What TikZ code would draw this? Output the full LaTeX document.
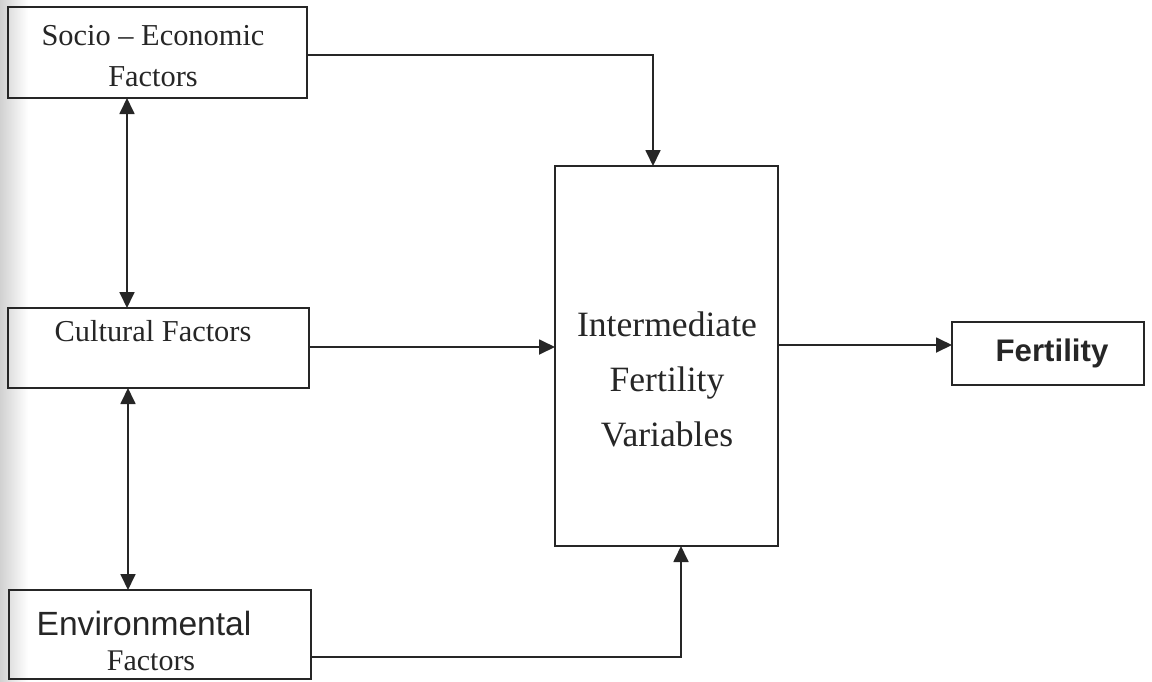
\documentclass[tikz,border=0pt]{standalone}
\usepackage{fontspec}
\setmainfont{Liberation Serif}
\newfontfamily\arialf{Liberation Sans}
\usetikzlibrary{arrows.meta,calc}
\tikzset{
  boxnode/.style={draw=black!85, line width=0.9pt, rectangle, inner sep=0pt},
  lbl/.style={inner sep=0pt, align=center, text=black!85},
  conn/.style={draw=black!85, line width=0.9pt},
  arr/.style={conn, -{Triangle[length=8pt,width=7.5pt]}},
  darr/.style={conn, {Triangle[length=8pt,width=7.5pt]}-{Triangle[length=8pt,width=7.5pt]}}
}
\begin{document}
\begin{tikzpicture}[x=0.5pt,y=-0.5pt]
\useasboundingbox (0,0) rectangle (1152,681);
\fill[left color=black!18, right color=white] (0,0) rectangle (28,681);
% boxes
\node[boxnode, minimum width=149.5pt, minimum height=45.5pt] (se) at (157.5,52.5) {};
\node[boxnode, minimum width=150.5pt, minimum height=40pt] (cf) at (158.5,348) {};
\node[boxnode, minimum width=151pt, minimum height=44.5pt] (ef) at (160,634.5) {};
\node[boxnode, minimum width=111.5pt, minimum height=190pt] (iv) at (666.5,356) {};
\node[boxnode, minimum width=96pt, minimum height=31.5pt] (ff) at (1048,353.5) {};
% texts
\node[lbl, font=\fontsize{15.2}{20.5}\selectfont] (setxt) at (153,56) {Socio -- Economic\\Factors};
\node[lbl, font=\fontsize{15.2}{18}\selectfont] (cftxt) at (153,331) {Cultural Factors};
\node[lbl, font=\fontsize{17.8}{27.5}\selectfont] (ivtxt) at (667,379) {Intermediate\\Fertility\\Variables};
\node[lbl, font=\arialf\fontsize{16.8}{18.5}\selectfont] (eftxt1) at (144,623) {Environmental};
\node[lbl, font=\fontsize{15}{18}\selectfont] (eftxt2) at (151,661) {Factors};
\node[lbl, font=\arialf\bfseries\fontsize{15.6}{18}\selectfont] (fftxt) at (1052,353) {Fertility};
% helper coordinates
\coordinate (seout) at (307,55);
\coordinate (ivtop) at (653,166);
\coordinate (cfout) at (309,347);
\coordinate (ivin) at (555,347);
\coordinate (ivout) at (778,345);
\coordinate (ffin) at (952,345);
\coordinate (efout) at (310,657);
\coordinate (ivbot) at (681,546);
\coordinate (sebot) at (127,98);
\coordinate (cftop) at (127,308);
\coordinate (cfbot) at (128,388);
\coordinate (eftop) at (128,590);
% connectors
\draw[arr] (seout) -| (ivtop);
\draw[arr] (cfout) -- (ivin);
\draw[arr] (ivout) -- (ffin);
\draw[arr] (efout) -| (ivbot);
\draw[darr] (sebot) -- (cftop);
\draw[darr] (cfbot) -- (eftop);
\end{tikzpicture}
\end{document}
